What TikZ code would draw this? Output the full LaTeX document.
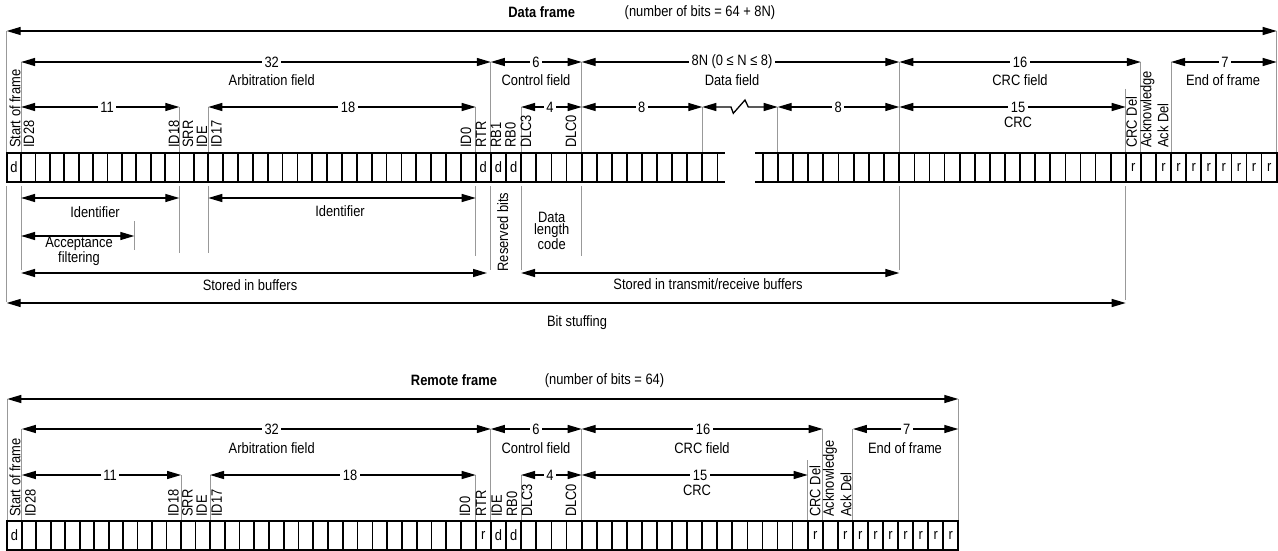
\documentclass[tikz,border=0pt]{standalone}
\usepackage{fontspec}
\setmainfont[FakeStretch=0.86]{Liberation Sans}
\usetikzlibrary{arrows.meta}
\newcommand\bitcells[4]{\foreach \i in {1,...,#3}{\draw[cellbox] ({#1+(\i-1)*#2},#4) rectangle ++(#2,29);}}
\begin{document}
\begin{tikzpicture}[x=1pt,y=-1pt,
  every node/.style={font=\fontsize{15}{15}\selectfont, inner sep=0pt},
  boldtxt/.style={font=\fontsize{15}{15}\selectfont\bfseries},
  dim/.style={line width=1.3pt, {Triangle[length=14pt,width=8pt]}-{Triangle[length=14pt,width=8pt]}},
  tick/.style={draw=black!40, line width=0.9pt},
  cellbox/.style={line width=1.7pt},
  onl/.style={fill=white, inner xsep=2.5pt, inner ysep=1pt},
  vl/.style={rotate=90, anchor=west},
  multi/.style={align=center, font=\fontsize{15}{12.5}\selectfont}
]
\useasboundingbox (0,0) rectangle (1278,551);

% ================= DATA FRAME =================
\node[boldtxt] (dftitle) at (541.7,12) {Data frame};
\node (dfbits) at (700,13) {(number of bits = 64 + 8N)};

% ticks above row
\foreach \x/\y in {6.7/31, 21.1/62, 179.3/107, 208.3/107, 475.7/107, 490.8/62, 521.1/107, 581.7/62, 702.3/107, 777.7/107, 899.3/62, 1125.7/89, 1140.8/62, 1171.0/62, 1276.7/31}
  \draw[tick] (\x,\y) -- (\x,153);
% ticks below row
\foreach \x/\y in {6.7/302, 21.1/270, 179.3/253, 208.3/253, 475.7/256, 490.8/270, 521.1/270, 581.7/256, 899.3/270, 1125.7/300}
  \draw[tick] (\x,186) -- (\x,\y);
\draw[tick] (134.3,221) -- (134.3,250);

% cells
\bitcells{6.7}{14.4}{14}{153}
\bitcells{208.3}{14.856}{18}{153}
\bitcells{475.7}{15.143}{7}{153}
\bitcells{581.7}{15.075}{9}{153}
\draw[cellbox] (716.4,153) -- (725,153) (716.4,182) -- (725,182);
\draw[cellbox] (755,153) -- (762.7,153) (755,182) -- (762.7,182);
\bitcells{762.7}{15.0}{1}{153}
\bitcells{777.7}{15.2}{8}{153}
\bitcells{899.3}{15.096}{25}{153}

% cell contents
\node (dsof) at (13.9,167.5) {d};
\foreach \c [count=\k] in {483.3,498.4,513.6} \node (dctl\k) at (\c,167.5) {d};
\foreach \i in {15,17,18,19,20,21,22,23,24} \node (dr\i) at ({899.3+(\i+0.5)*15.096},167.5) {r};

% rotated labels
\foreach \x/\t in {15/Start of frame, 29/ID28, 174/ID18, 188/SRR, 202/IDE, 216.5/ID17, 466/ID0, 481/RTR, 496/RB1, 510.5/RB0, 526/DLC3, 571/DLC0, 1131.5/CRC Del, 1147.5/Acknowledge, 1163/Ack Del}
  \node[vl] at (\x,148) {\t};

% dimension arrows, level 0-1
\draw[dim] (6.7,31) -- (1276.7,31);
\draw[dim] (21.1,62) -- (490.8,62);
\draw[dim] (490.8,62) -- (581.7,62);
\draw[dim] (581.7,62) -- (899.3,62);
\draw[dim] (899.3,62) -- (1140.8,62);
\draw[dim] (1171.0,62) -- (1276.7,62);
\node[onl] (d32) at (271.7,62) {32};
\node (darb) at (271.7,80) {Arbitration field};
\node[onl] (d6) at (536,62) {6};
\node (dctl) at (536,80) {Control field};
\node[onl] (d8n) at (732,62) {8N (0 ≤ N ≤ 8)};
\node (ddata) at (732,80) {Data field};
\node[onl] (d16) at (1020,62) {16};
\node (dcrcf) at (1020,80) {CRC field};
\node[onl] (d7) at (1225,62) {7};
\node (deof) at (1223,80) {End of frame};

% level 2
\draw[dim] (21.1,107) -- (179.3,107);
\draw[dim] (208.3,107) -- (475.7,107);
\draw[dim] (521.1,107) -- (581.7,107);
\draw[dim] (581.7,107) -- (702.3,107);
\draw[dim] (702.3,107) -- (731,107) -- (733.3,113.3) -- (745,100) -- (748.3,107) -- (777.7,107);
\draw[dim] (777.7,107) -- (899.3,107);
\draw[dim] (899.3,107) -- (1125.7,107);
\node[onl] (d11) at (107,107) {11};
\node[onl] (d18) at (348,107) {18};
\node[onl] (d4) at (550,107) {4};
\node[onl] (d8a) at (641.7,107) {8};
\node[onl] (d8b) at (838.3,107) {8};
\node[onl] (d15) at (1018,107) {15};
\node (dcrc) at (1018,122) {CRC};

% below the row
\draw[dim] (21.1,198) -- (179.3,198);
\draw[dim] (208.3,198) -- (475.7,198);
\draw[dim] (21.1,236) -- (134.3,236);
\draw[dim] (21.1,273) -- (487,273);
\draw[dim] (521.1,273) -- (899.3,273);
\draw[dim] (6.7,303) -- (1125.7,303);
\node (did1) at (95,212) {Identifier};
\node (did2) at (340,211) {Identifier};
\node[multi] (dacc) at (79,251.5) {Acceptance\\filtering};
\node (dstb) at (250,285) {Stored in buffers};
\node[rotate=90] (dres) at (502.7,232) {Reserved bits};
\node[multi] (ddlc) at (551.7,231) {Data\\length\\code};
\node (dstt) at (708,284) {Stored in transmit/receive buffers};
\node (dbs) at (577,323) {Bit stuffing};

% ================= REMOTE FRAME =================
\node[boldtxt] (rftitle) at (454,380) {Remote frame};
\node (rfbits) at (604.5,381) {(number of bits = 64)};

\foreach \x/\y in {7.3/399, 21.8/429, 181.1/475, 210/475, 475.7/475, 490.8/429, 521.1/475, 581.7/429, 807.7/460, 822.7/429, 852.9/429, 958.3/399}
  \draw[tick] (\x,\y) -- (\x,521);

\bitcells{7.3}{14.48}{14}{521}
\bitcells{210}{14.761}{18}{521}
\bitcells{475.7}{15.143}{7}{521}
\bitcells{581.7}{15.064}{25}{521}

\node (rsof) at (14.5,535.5) {d};
\node (rrtr) at (483.3,535.5) {r};
\node (ride) at (498.4,535.5) {d};
\node (rrb0) at (513.6,535.5) {d};
\foreach \i in {15,17,18,19,20,21,22,23,24} \node (rr\i) at ({581.7+(\i+0.5)*15.064},535.5) {r};

\foreach \x/\t in {15/Start of frame, 30.5/ID28, 173.5/ID18, 187.5/SRR, 201.7/IDE, 216.7/ID17, 465/ID0, 481/RTR, 496.7/IDE, 512/RB0, 527/DLC3, 571/DLC0, 815/CRC Del, 830/Acknowledge, 846/Ack Del}
  \node[vl] at (\x,517) {\t};

\draw[dim] (7.3,399) -- (958.3,399);
\draw[dim] (21.8,429) -- (490.8,429);
\draw[dim] (490.8,429) -- (581.7,429);
\draw[dim] (581.7,429) -- (822.7,429);
\draw[dim] (852.9,429) -- (958.3,429);
\node[onl] (r32) at (271.7,429) {32};
\node (rarb) at (271.7,448) {Arbitration field};
\node[onl] (r6) at (536,429) {6};
\node (rctl) at (536,448) {Control field};
\node[onl] (r16) at (703,429) {16};
\node (rcrcf) at (702,448) {CRC field};
\node[onl] (r7) at (906.7,429) {7};
\node (reof) at (905,448) {End of frame};

\draw[dim] (21.8,475) -- (181.1,475);
\draw[dim] (210,475) -- (475.7,475);
\draw[dim] (521.1,475) -- (581.7,475);
\draw[dim] (581.7,475) -- (807.7,475);
\node[onl] (r11) at (110,475) {11};
\node[onl] (r18) at (350,475) {18};
\node[onl] (r4) at (550,475) {4};
\node[onl] (r15) at (700,475) {15};
\node (rcrc) at (697,490) {CRC};
\end{tikzpicture}
\end{document}
